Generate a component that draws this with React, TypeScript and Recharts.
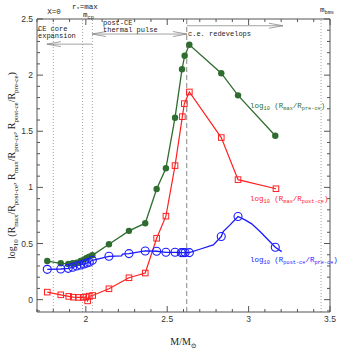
import React from "react";
import { LineChart, Line, XAxis, YAxis, ReferenceLine } from "recharts";

// M/Msun and log10 radius ratios
const greenMass = [1.763, 1.846, 1.892, 1.919, 1.944, 1.968, 1.989, 2.005, 2.021, 2.04, 2.142, 2.265, 2.365, 2.435, 2.492, 2.548, 2.591, 2.607, 2.636, 2.832, 2.935, 3.164];
const greenRmaxPre = [0.344, 0.324, 0.318, 0.324, 0.329, 0.344, 0.359, 0.371, 0.383, 0.395, 0.494, 0.613, 0.681, 0.986, 1.17, 1.621, 2.053, 2.172, 2.27, 2.017, 1.82, 1.46];

const redMass = [1.763, 1.846, 1.895, 1.923, 1.954, 1.984, 2.001, 2.011, 2.021, 2.042, 2.142, 2.265, 2.365, 2.435, 2.492, 2.548, 2.593, 2.605, 2.636, 2.832, 2.935, 3.168];
const redRmaxPost = [0.067, 0.043, 0.029, 0.022, 0.02, 0.02, 0.025, -0.011, 0.031, 0.037, 0.097, 0.195, 0.237, 0.547, 0.744, 1.194, 1.63, 1.746, 1.85, 1.444, 1.069, 0.988];

const blueMass = [1.763, 1.846, 1.892, 1.919, 1.944, 1.968, 1.989, 2.005, 2.021, 2.04, 2.142, 2.22, 2.225, 2.265, 2.365, 2.435, 2.492, 2.548, 2.586, 2.598, 2.61, 2.636, 2.7, 2.783, 2.832, 2.844, 2.886, 2.935, 2.978, 3.019, 3.07, 3.121, 3.164, 3.203];
const bluePostPre = [0.27, 0.273, 0.279, 0.288, 0.3, 0.309, 0.318, 0.326, 0.333, 0.351, 0.386, 0.39, 0.405, 0.41, 0.434, 0.431, 0.422, 0.422, 0.419, 0.419, 0.419, 0.419, 0.449, 0.487, 0.562, 0.607, 0.666, 0.741, 0.711, 0.675, 0.607, 0.532, 0.467, 0.428];
// 1 = point drawn with a circle, 0 = curve only
const blueMarker = [1, 1, 1, 1, 1, 1, 1, 1, 1, 1, 1, 0, 0, 1, 1, 1, 1, 1, 1, 1, 1, 1, 0, 0, 1, 0, 0, 1, 0, 0, 0, 0, 1, 0];

const xTicks = [1.7, 1.8, 1.9, 2, 2.1, 2.2, 2.3, 2.4, 2.5, 2.6, 2.7, 2.8, 2.9, 3, 3.1, 3.2, 3.3, 3.4, 3.5];
const yTicks = [-0.1, 0, 0.1, 0.2, 0.3, 0.4, 0.5, 0.6, 0.7, 0.8, 0.9, 1, 1.1, 1.2, 1.3, 1.4, 1.5, 1.6, 1.7, 1.8, 1.9, 2, 2.1, 2.2, 2.3, 2.4, 2.5];
const xLabelled = [2, 2.5, 3, 3.5];
const yLabelled = [0, 0.5, 1, 1.5, 2, 2.5];

const dottedLines = [1.8, 1.98, 2.04, 3.445];
const dashedLine = 2.62;

const GREEN = "#2f6c2f";
const RED = "#ff2020";
const BLUE = "#1a1aff";
const GRAY = "#8a8a8a";
const AXIS = "#555";
const MONO = "'Liberation Mono', 'DejaVu Sans Mono', monospace";
const SERIF = "'Liberation Serif', 'DejaVu Serif', serif";

const greenData = greenMass.map((m, i) => ({ m, v: greenRmaxPre[i] }));
const redData = redMass.map((m, i) => ({ m, v: redRmaxPost[i] }));
const blueData = blueMass.map((m, i) => ({ m, v: bluePostPre[i], k: blueMarker[i] }));

const near = (list: number[], v: number) => list.some((t) => Math.abs(t - v) < 1e-6);

// text with subscripts: [text, isSub]
function rich(parts: [string, boolean?][], size: number) {
  let down = false;
  return parts.map(([t, sub], i) => {
    const s = !!sub;
    const dy = s === down ? 0 : s ? size * 0.3 : -size * 0.3;
    down = s;
    return (
      <tspan key={i} dy={dy} fontSize={s ? size * 0.7 : size}>
        {t}
      </tspan>
    );
  });
}

function LeftTick({ x, y, payload }: any) {
  const major = near(yLabelled, payload.value);
  return (
    <g>
      <line x1={x} y1={y} x2={x + (major ? 6 : 3)} y2={y} stroke={AXIS} />
      {major && (
        <text x={x - 4} y={y + 3} textAnchor="end" fontSize={8.5} fontFamily="'Liberation Sans', Arial" fill="#333">
          {payload.value}
        </text>
      )}
    </g>
  );
}

function RightTick({ x, y, payload }: any) {
  const major = near(yLabelled, payload.value);
  return <line x1={x} y1={y} x2={x - (major ? 6 : 3)} y2={y} stroke={AXIS} />;
}

function BottomTick({ x, y, payload }: any) {
  const major = near(xLabelled, payload.value);
  return (
    <g>
      <line x1={x} y1={y} x2={x} y2={y - (major ? 6 : 3)} stroke={AXIS} />
      {major && (
        <text x={x} y={y + 10} textAnchor="middle" fontSize={8.5} fontFamily="'Liberation Sans', Arial" fill="#333">
          {payload.value}
        </text>
      )}
    </g>
  );
}

function TopTick({ x, y, payload }: any) {
  const major = near(xLabelled, payload.value);
  return <line x1={x} y1={y} x2={x} y2={y + (major ? 6 : 3)} stroke={AXIS} />;
}

function YTitle(props: any) {
  const vb = props.viewBox || { x: 0, y: 19, width: 37, height: 293 };
  const cx = vb.x + 15;
  const cy = vb.y + vb.height / 2;
  return (
    <text x={cx} y={cy} transform={`rotate(-90 ${cx} ${cy})`} textAnchor="middle" fontFamily={SERIF} fill="#222">
      {rich(
        [["log"], ["10", true], [" (R"], ["max", true], ["/R"], ["post-ce", true], [", R"], ["max", true], ["/R"], ["pre-ce", true], [", R"], ["post-ce", true], ["/R"], ["pre-ce", true], [")"]],
        10
      )}
    </text>
  );
}

function XTitle(props: any) {
  const vb = props.viewBox || { x: 37, y: 312, width: 293, height: 37 };
  return (
    <text x={vb.x + vb.width / 2} y={vb.y + 33} textAnchor="middle" fontFamily={SERIF} fill="#222">
      {rich([["M/M"], ["\u2299", true]], 10)}
    </text>
  );
}

function head(x: number, y: number, dir: number) {
  // open arrowhead, dir = +1 points right, -1 points left
  const L = 14;
  return <path d={`M${x - dir * L},${y - 2.5} L${x},${y} L${x - dir * L},${y + 2.5}`} fill="none" stroke={GRAY} strokeWidth={0.8} />;
}

function Arrow({ x1, y1, x2, y2, start, end }: any) {
  const dir = x2 > x1 ? 1 : -1;
  return (
    <g>
      <line x1={x1} y1={y1} x2={x2} y2={y2} stroke={GRAY} strokeWidth={0.8} />
      {end && head(x2, y2, dir)}
      {start && head(x1, y1, -dir)}
    </g>
  );
}

const GreenDot = (p: any) => <circle key={p.index} cx={p.cx} cy={p.cy} r={3.2} fill={GREEN} />;
const RedDot = (p: any) => (
  <rect key={p.index} x={p.cx - 2.8} y={p.cy - 2.8} width={5.6} height={5.6} fill="none" stroke={RED} strokeWidth={1} />
);
const BlueDot = (p: any) =>
  p.payload.k ? <circle key={p.index} cx={p.cx} cy={p.cy} r={4} fill="none" stroke={BLUE} strokeWidth={1.1} /> : <g key={p.index} />;

export default function App() {
  return (
    <div style={{ position: "fixed", left: 0, top: 0, width: 349, height: 349, background: "#fff" }}>
      <LineChart width={349} height={349} margin={{ top: 18, right: 18, bottom: 0, left: 0 }}>
        <XAxis xAxisId="b" type="number" dataKey="m" domain={[1.7, 3.5]} allowDataOverflow ticks={xTicks} interval={0}
          tickSize={0} tickMargin={0} tickLine={false} tick={<BottomTick />} height={37} stroke={AXIS} label={<XTitle />} />
        <XAxis xAxisId="t" orientation="top" type="number" dataKey="m" domain={[1.7, 3.5]} allowDataOverflow ticks={xTicks}
          interval={0} tickSize={0} tickMargin={0} tickLine={false} tick={<TopTick />} height={1} stroke={AXIS} />
        <YAxis yAxisId="l" type="number" domain={[-0.11, 2.5]} allowDataOverflow ticks={yTicks} interval={0}
          tickSize={0} tickMargin={0} tickLine={false} tick={<LeftTick />} width={37} stroke={AXIS} label={<YTitle />} />
        <YAxis yAxisId="r" orientation="right" type="number" domain={[-0.11, 2.5]} allowDataOverflow ticks={yTicks}
          interval={0} tickSize={0} tickMargin={0} tickLine={false} tick={<RightTick />} width={1} stroke={AXIS} />

        {dottedLines.map((x) => (
          <ReferenceLine key={x} x={x} xAxisId="b" yAxisId="l" stroke={GRAY} strokeWidth={0.8} strokeDasharray="1 2" />
        ))}
        <ReferenceLine x={dashedLine} xAxisId="b" yAxisId="l" stroke="#666" strokeWidth={0.8} strokeDasharray="5 3" />

        <ReferenceLine xAxisId="b" yAxisId="l" segment={[{ x: 2.621, y: 2.44 }, { x: 3.211, y: 2.44 }]}
          shape={(p: any) => <Arrow {...p} end />} />
        <ReferenceLine xAxisId="b" yAxisId="l" segment={[{ x: 2.038, y: 2.366 }, { x: 2.621, y: 2.366 }]}
          shape={(p: any) => <Arrow {...p} start end />} />
        <ReferenceLine xAxisId="b" yAxisId="l" segment={[{ x: 2.038, y: 2.276 }, { x: 1.761, y: 2.276 }]}
          shape={(p: any) => <Arrow {...p} end />} />

        <Line data={greenData} dataKey="v" xAxisId="b" yAxisId="l" type="linear" stroke={GREEN} strokeWidth={1.3}
          dot={GreenDot} isAnimationActive={false} />
        <Line data={redData} dataKey="v" xAxisId="b" yAxisId="l" type="linear" stroke={RED} strokeWidth={1.2}
          dot={RedDot} isAnimationActive={false} />
        <Line data={blueData} dataKey="v" xAxisId="b" yAxisId="l" type="linear" stroke={BLUE} strokeWidth={1.3}
          dot={BlueDot} isAnimationActive={false} />
      </LineChart>

      {/* annotations */}
      <svg width={349} height={349} style={{ position: "absolute", left: 0, top: 0, pointerEvents: "none" }}>
        <g fontFamily={MONO} fill="#222" fontSize={7}>
          <text x={54} y={14} textAnchor="middle" fontSize={7.5}>X=0</text>
          <text x={72} y={9}>{rich([["r"], ["*", true], ["=max"]], 7.5)}</text>
          <text x={83} y={17}>{rich([["m"], ["cp", true]], 7.5)}</text>
          <text x={320} y={12}>{rich([["m"], ["bms", true]], 7.5)}</text>
          <text x={38} y={30.5}>CE core</text>
          <text x={38} y={37.5}>expansion</text>
          <text x={103} y={24.5}>post-CE</text>
          <text x={103} y={31.5}>thermal pulse</text>
          <text x={188} y={36}>c.e. redevelops</text>
        </g>
        <g fontFamily={MONO} fontSize={7.5}>
          <text x={250} y={108} fill={GREEN}>{rich([["log"], ["10", true], [" (R"], ["max", true], ["/R"], ["pre-ce", true], [")"]], 7.5)}</text>
          <text x={250} y={201} fill={RED}>{rich([["log"], ["10", true], [" (R"], ["max", true], ["/R"], ["post-ce", true], [")"]], 7.5)}</text>
          <text x={250} y={262} fill={BLUE}>{rich([["log"], ["10", true], [" (R"], ["post-ce", true], ["/R"], ["pre-ce", true], [")"]], 7.5)}</text>
        </g>
      </svg>
    </div>
  );
}
